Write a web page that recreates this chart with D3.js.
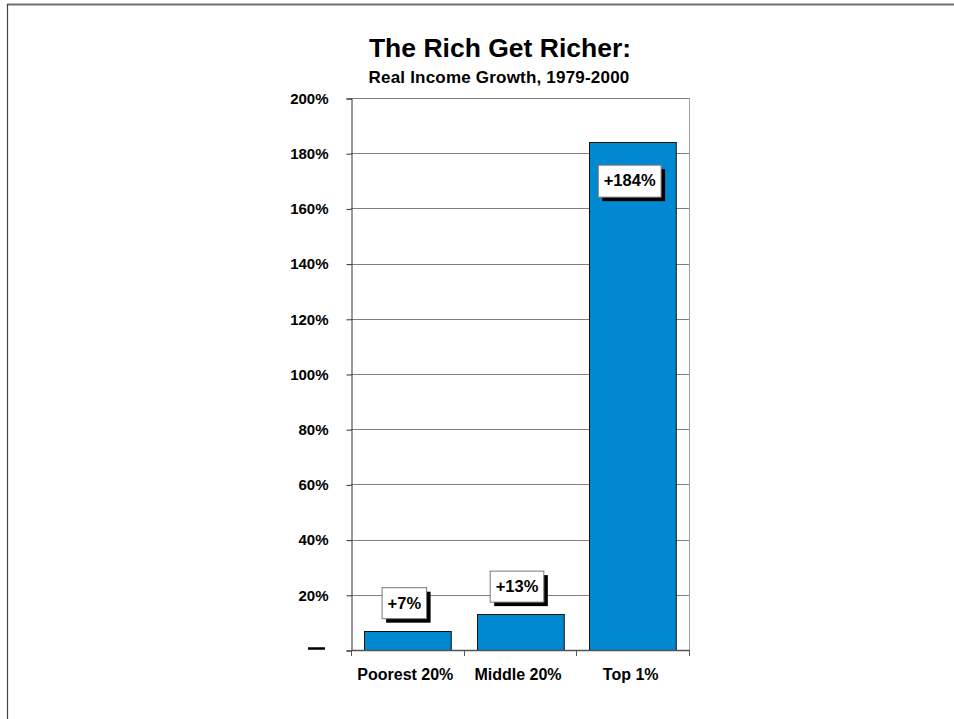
<!DOCTYPE html>
<html>
<head>
<meta charset="utf-8">
<script src="https://cdn.jsdelivr.net/npm/d3@7"></script>
<style>
  html, body { margin: 0; padding: 0; background: #fff; }
  svg { display: block; font-family: "Liberation Sans", Arial, sans-serif; }
</style>
</head>
<body>
<svg id="chart" width="954" height="719"></svg>
<script>
// Income groups and their real income growth, 1979-2000 (percent)
const categories = ["Poorest 20%", "Middle 20%", "Top 1%"];
const growth = [7, 13, 184];
const valueLabels = ["+7%", "+13%", "+184%"];
const yTicks = [0, 20, 40, 60, 80, 100, 120, 140, 160, 180, 200];

const svg = d3.select("#chart");
const W = 954, H = 719;

// outer page frame (top and left edges)
svg.append("line").attr("x1", 7).attr("x2", W).attr("y1", 4.5).attr("y2", 4.5)
  .attr("stroke", "#6e6e6e").attr("stroke-width", 2);
svg.append("line").attr("x1", 7.5).attr("x2", 7.5).attr("y1", 4).attr("y2", H)
  .attr("stroke", "#444").attr("stroke-width", 1.2);

const plot = { left: 351, right: 689, top: 98, bottom: 650 };

const x = d3.scaleBand().domain(categories)
  .range([plot.left, plot.right]).paddingInner(0.23).paddingOuter(0.115);
const y = d3.scaleLinear().domain([0, 200]).range([plot.bottom, plot.top]);

// titles
svg.append("text").attr("x", 500).attr("y", 57).attr("text-anchor", "middle")
  .attr("font-size", 26.5).attr("font-weight", "bold").text("The Rich Get Richer:");
svg.append("text").attr("x", 499).attr("y", 83).attr("text-anchor", "middle")
  .attr("font-size", 17).attr("font-weight", "bold").attr("letter-spacing", 0.2)
  .text("Real Income Growth, 1979-2000");

// horizontal gridlines
svg.append("g").selectAll("line").data(yTicks.filter(d => d > 0)).join("line")
  .attr("x1", plot.left).attr("x2", plot.right)
  .attr("y1", d => Math.round(y(d)) + 0.5).attr("y2", d => Math.round(y(d)) + 0.5)
  .attr("stroke", "#808080").attr("stroke-width", 1);

// right border of plot area
svg.append("line").attr("x1", plot.right + 0.5).attr("x2", plot.right + 0.5)
  .attr("y1", plot.top).attr("y2", plot.bottom)
  .attr("stroke", "#a0a0a0").attr("stroke-width", 1);

// y axis
const yAxis = d3.axisLeft(y).tickValues(yTicks).tickSize(5).tickPadding(18)
  .tickFormat(d => d === 0 ? "" : d + "%");
const gy = svg.append("g").attr("transform", `translate(${plot.left + 0.5},0.5)`).call(yAxis);
gy.select(".domain").attr("stroke", "#333");
gy.selectAll(".tick line").attr("stroke", "#333");
gy.selectAll(".tick text").attr("font-size", 15).attr("font-weight", "bold")
  .attr("fill", "#000").attr("font-family", "Liberation Sans, Arial, sans-serif");
// zero shown as a dash
svg.append("line").attr("x1", 308).attr("x2", 325)
  .attr("y1", y(0) - 1.5).attr("y2", y(0) - 1.5)
  .attr("stroke", "#000").attr("stroke-width", 2.5);

// bars
svg.append("g").selectAll("rect").data(growth).join("rect")
  .attr("x", (d, i) => Math.round(x(categories[i])) + 0.5)
  .attr("y", d => Math.round(y(d)) + 0.5)
  .attr("width", x.bandwidth())
  .attr("height", d => Math.round(y(0)) - Math.round(y(d)))
  .attr("fill", "#0088d0").attr("stroke", "#111").attr("stroke-width", 1);

// x axis with category separators
const xAxisG = svg.append("g");
xAxisG.append("line").attr("x1", plot.left).attr("x2", plot.right)
  .attr("y1", plot.bottom + 0.5).attr("y2", plot.bottom + 0.5)
  .attr("stroke", "#555").attr("stroke-width", 1.5);
const sepPos = categories.map(c => x(c) - x.step() * x.paddingInner() / 2)
  .concat([plot.right]);
sepPos[0] = plot.left;
xAxisG.selectAll("line.sep").data(sepPos).join("line").attr("class", "sep")
  .attr("x1", d => Math.round(d) + 0.5).attr("x2", d => Math.round(d) + 0.5)
  .attr("y1", plot.bottom).attr("y2", plot.bottom + 6)
  .attr("stroke", "#555").attr("stroke-width", 1);
xAxisG.selectAll("text").data(categories).join("text")
  .attr("x", d => x(d) + x.bandwidth() / 2 - 2)
  .attr("y", 680).attr("text-anchor", "middle")
  .attr("font-size", 16).attr("font-weight", "bold").text(d => d);

// value callouts: white boxes with a dark drop shadow
const lg = svg.append("g").selectAll("g").data(growth).join("g");
lg.each(function (v, i) {
  const g = d3.select(this);
  const cx = x(categories[i]) + x.bandwidth() / 2 - 3;
  const inside = v > 100;
  const h = inside ? 32 : 31;
  const top = inside ? y(v) + 23 : y(v) - 12 - h;
  const shadow = g.append("rect").attr("fill", "#000");
  const box = g.append("rect").attr("fill", "#fff").attr("stroke", "#777").attr("stroke-width", 1);
  const t = g.append("text").attr("font-size", 16.5).attr("font-weight", "bold")
    .attr("text-anchor", "middle").attr("x", cx).attr("y", top + 21).text(valueLabels[i]);
  const w = t.node().getComputedTextLength() + 11;
  box.attr("x", cx - w / 2).attr("y", top).attr("width", w).attr("height", h);
  shadow.attr("x", cx - w / 2 + 4).attr("y", top + 4).attr("width", w).attr("height", h);
});
</script>
</body>
</html>
